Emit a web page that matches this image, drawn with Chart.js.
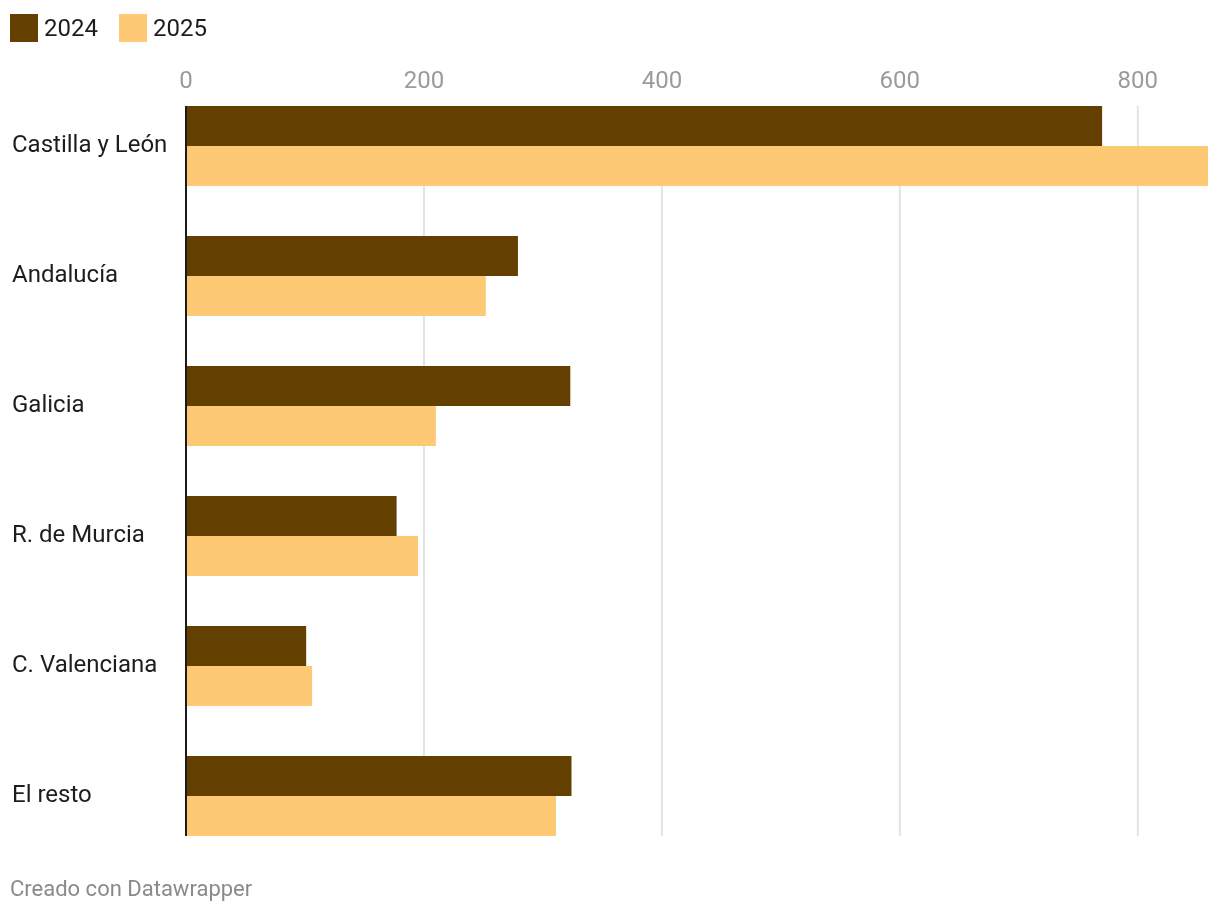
<!DOCTYPE html>
<html>
<head>
<meta charset="utf-8">
<script src="https://cdn.jsdelivr.net/npm/chart.js@4.4.1/dist/chart.umd.min.js"></script>
<style>
    html, body { margin: 0; padding: 0; background: #fff; }
    body { width: 1220px; height: 912px; position: relative; overflow: hidden; font-family: Roboto, "Noto Sans", sans-serif; }
    #legend { position: absolute; left: 10px; top: 14px; height: 28px; display: flex; align-items: center; font-size: 24px; color: #1d1d1d; }
    .legend-item { display: flex; align-items: center; margin-right: 21px; }
    .swatch { width: 28px; height: 28px; margin-right: 6px; }
    #wrap { position: absolute; left: 0; top: 0; width: 1220px; height: 912px; }
    #footer { position: absolute; left: 10px; top: 876px; font-size: 22px; color: #8a8a8a; }
</style>
</head>
<body>
<div id="wrap"><canvas id="chart"></canvas></div>
<div id="legend"></div>
<div id="footer">Creado con Datawrapper</div>
<script>
// ================= Data =================
const categories = ['Castilla y León', 'Andalucía', 'Galicia', 'R. de Murcia', 'C. Valenciana', 'El resto'];
const values2024 = [770, 279, 323, 177, 101, 324];
const values2025 = [859, 252, 210, 195, 106, 311];
const seriesNames = ['2024', '2025'];
const seriesColors = ['#633f00', '#fec975'];
const tickStep = 200;

// ================= Legend =================
const legend = document.getElementById('legend');
seriesNames.forEach((name, i) => {
    legend.innerHTML += `<div class="legend-item"><div class="swatch" style="background:${seriesColors[i]}"></div>${name}</div>`;
});

// grid, zero line and top tick labels, limited to the bar block
const gridPlugin = {
    id: 'dwGrid',
    barExtent(chart) {
        const first = chart.getDatasetMeta(0).data[0];
        const last = chart.getDatasetMeta(1).data[categories.length - 1];
        return { top: first.y - first.height / 2, bottom: last.y + last.height / 2 };
    },
    beforeDatasetsDraw(chart) {
        const { ctx } = chart;
        const x = chart.scales.x;
        const ext = this.barExtent(chart);
        ctx.save();
        ctx.strokeStyle = '#e3e3e3';
        ctx.lineWidth = 2;
        x.ticks.forEach(t => {
            if (t.value === 0) return;
            const px = x.getPixelForValue(t.value);
            ctx.beginPath();
            ctx.moveTo(px, ext.top);
            ctx.lineTo(px, ext.bottom);
            ctx.stroke();
        });
        ctx.fillStyle = '#9b9b9b';
        ctx.font = '24px Roboto';
        ctx.textAlign = 'center';
        ctx.textBaseline = 'middle';
        x.ticks.forEach(t => {
            ctx.fillText(String(t.value), x.getPixelForValue(t.value), 82);
        });
        ctx.restore();
    },
    afterDatasetsDraw(chart) {
        const { ctx } = chart;
        const ext = this.barExtent(chart);
        const px = chart.scales.x.getPixelForValue(0);
        ctx.save();
        ctx.strokeStyle = '#1a1a1a';
        ctx.lineWidth = 2;
        ctx.beginPath();
        ctx.moveTo(px, ext.top);
        ctx.lineTo(px, ext.bottom);
        ctx.stroke();
        ctx.restore();
    }
};

const ctx = document.getElementById('chart').getContext('2d');
new Chart(ctx, {
    type: 'bar',
    data: {
        labels: categories,
        datasets: [
            { label: seriesNames[0], data: values2024, backgroundColor: seriesColors[0] },
            { label: seriesNames[1], data: values2025, backgroundColor: seriesColors[1] }
        ]
    },
    options: {
        indexAxis: 'y',
        responsive: true,
        maintainAspectRatio: false,
        animation: false,
        layout: { padding: { left: 12, right: 12, top: 0, bottom: 51 } },
        datasets: { bar: { barPercentage: 1, categoryPercentage: 80 / 130 } },
        plugins: { legend: { display: false }, tooltip: { enabled: false } },
        scales: {
            x: {
                position: 'top',
                min: 0,
                max: Math.max(...values2024, ...values2025),
                grid: { display: false, drawTicks: false },
                border: { display: false },
                ticks: {
                    display: false,
                    stepSize: tickStep,
                    includeBounds: false
                },
                afterFit(scale) { scale.height = 81; }
            },
            y: {
                grid: { display: false, drawTicks: false },
                border: { display: false },
                ticks: {
                    crossAlign: 'far',
                    color: '#1d1d1d',
                    font: { family: 'Roboto', size: 24 }
                },
                afterFit(scale) { scale.width = 174; }
            }
        }
    },
    plugins: [gridPlugin]
});
</script>
</body>
</html>
